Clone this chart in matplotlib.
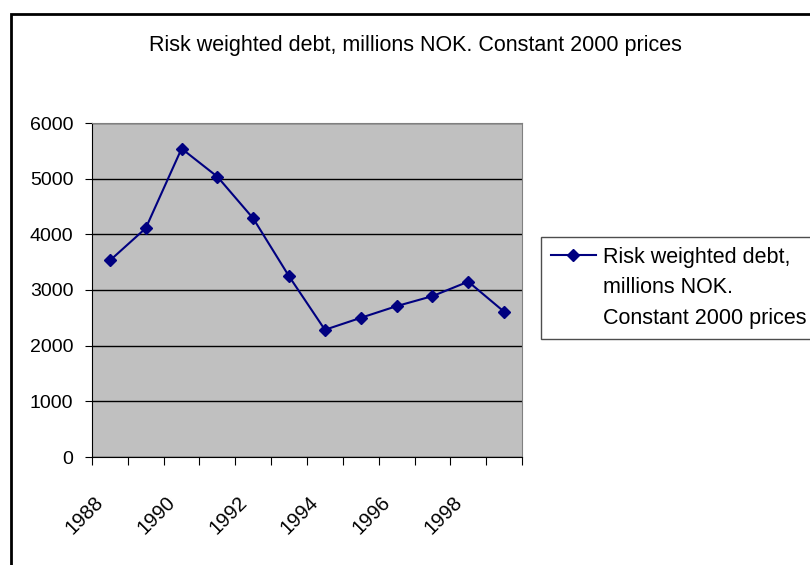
import matplotlib.pyplot as plt
from matplotlib.lines import Line2D
from matplotlib.patches import Rectangle
from matplotlib.transforms import ScaledTranslation

years = [1988, 1989, 1990, 1991, 1992, 1993, 1994, 1995, 1996, 1997, 1998, 1999]
debt = [3530, 4110, 5540, 5035, 4285, 3245, 2285, 2500, 2710, 2890, 3150, 2610]
yticks = [0, 1000, 2000, 3000, 4000, 5000, 6000]
legend_lines = ["Risk weighted debt,", "millions NOK.", "Constant 2000 prices"]
title = "Risk weighted debt, millions NOK. Constant 2000 prices"

plt.rcParams['font.family'] = ['Liberation Sans', 'DejaVu Sans']

fig = plt.figure(figsize=(8.1, 5.65), dpi=100)
ax = fig.add_axes([92 / 810, 1 - 457 / 565, 430 / 810, 334 / 565])

# outer chart border (cut off on the right and bottom)
fig.patches.append(Rectangle((11 / 810, -0.1), 1.2, 1 - 14 / 565 + 0.1,
                             transform=fig.transFigure, fill=False,
                             edgecolor='black', linewidth=2, zorder=0))

ax.set_facecolor('#c0c0c0')
pos = list(range(len(years)))
line, = ax.plot(pos, debt, color='#000080', marker='D', markersize=6.5,
                linewidth=1.5, zorder=3)

ax.set_xlim(-0.5, len(years) - 0.5)
ax.set_ylim(0, 6000)
ax.set_yticks(yticks)
ax.set_yticklabels([str(v) for v in yticks], fontsize=14)
ax.yaxis.grid(True, color='black', linewidth=1)
ax.set_axisbelow(True)

# category tick marks between categories, labels every other year
ax.set_xticks([p - 0.5 for p in range(len(years) + 1)])
ax.set_xticklabels([])
ax.set_xticks(pos[::2], minor=True)
ax.set_xticklabels([str(y) for y in years[::2]], minor=True, fontsize=14.5,
                   rotation=45, ha='right', va='top', rotation_mode='anchor')
ax.tick_params(axis='x', which='minor', length=0, pad=0)
ax.tick_params(axis='x', which='major', length=5.5, direction='out', color='black')
ax.tick_params(axis='y', length=5, direction='out', color='black', pad=8.5)
shift = ScaledTranslation(-0.16, -0.36, fig.dpi_scale_trans)
for lbl in ax.get_xticklabels(minor=True):
    lbl.set_transform(lbl.get_transform() + shift)

ax.spines['left'].set_color('black')
ax.spines['bottom'].set_color('black')
ax.spines['top'].set_color('#808080')
ax.spines['right'].set_color('#808080')

fig.text(415 / 810, 1 - 45 / 565, title, ha='center', va='center', fontsize=15.5)

blank = Line2D([], [], linestyle='none', marker='')
leg = ax.legend([line, blank, blank], legend_lines,
                loc='upper left', bbox_to_anchor=(541 / 810, 1 - 237 / 565),
                bbox_transform=fig.transFigure, fontsize=15.5, frameon=True,
                fancybox=False, edgecolor='#202020', handlelength=2.1,
                handletextpad=0.33, borderpad=0.45, labelspacing=0.45,
                borderaxespad=0)
leg.get_frame().set_linewidth(1)

plt.savefig('out.png', dpi=100)
